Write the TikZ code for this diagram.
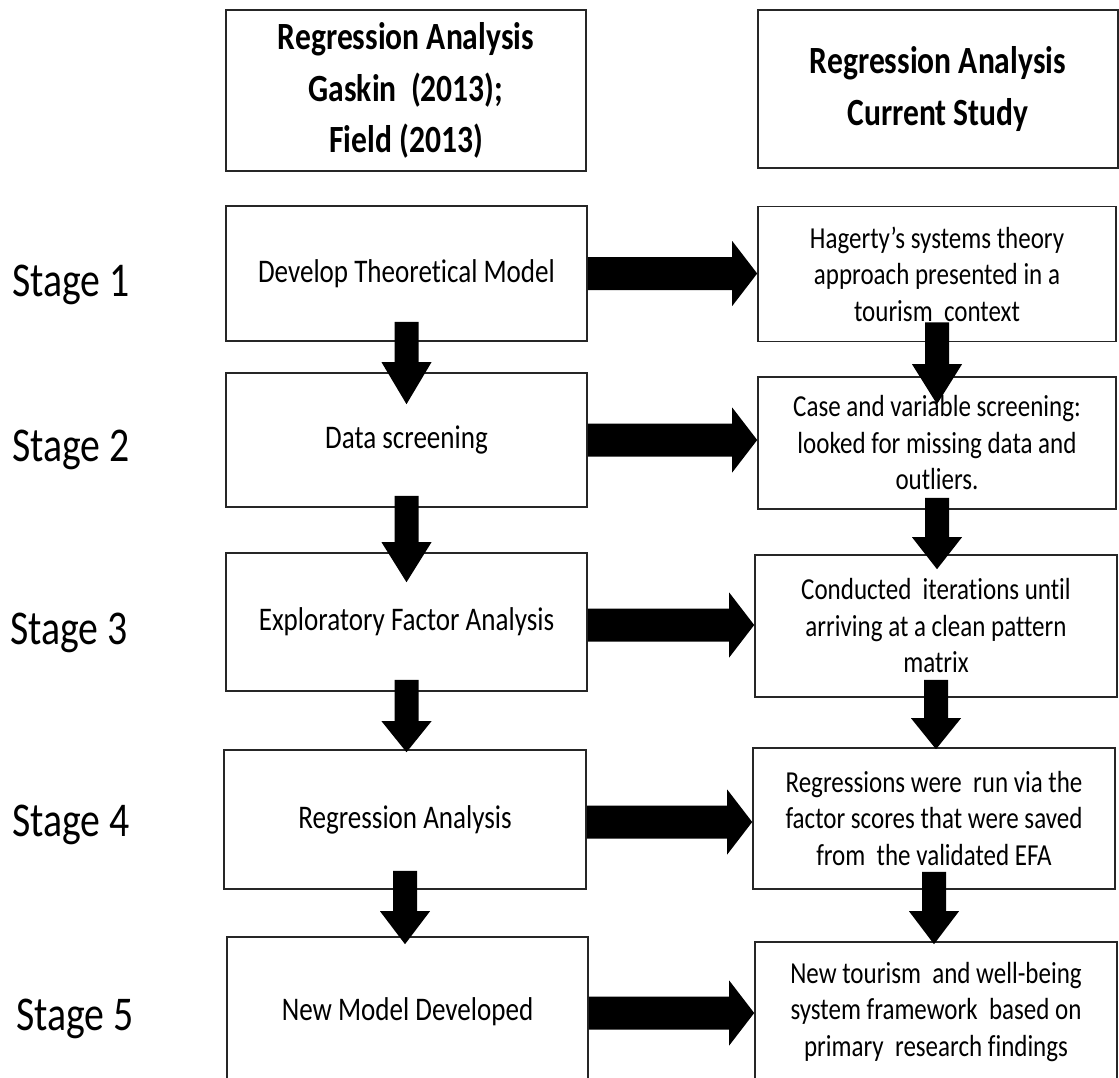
\documentclass[tikz,border=0pt]{standalone}
\usepackage{fontspec}
\setmainfont{Carlito}[FakeStretch=0.82, Ligatures=NoCommon]
\usetikzlibrary{calc}

% thick block arrow pointing right, from the east side of #1 to the west side of #2
% #3: vertical shift of the arrow (downwards)
\newcommand\rightblock[3]{%
  \fill[blockfill] let \p1=(#1.east), \p2=(#2.west) in
    (\x1,\y1-#3+16.5pt) -- (\x2-25pt,\y1-#3+16.5pt) -- (\x2-25pt,\y1-#3+32.5pt)
    -- (\x2,\y1-#3) -- (\x2-25pt,\y1-#3-32.5pt) -- (\x2-25pt,\y1-#3-16.5pt)
    -- (\x1,\y1-#3-16.5pt) -- cycle;}

% thick block arrow pointing down, from inside #1 into #2
% #3: start above the bottom of #1, #4: tip below the top of #2, #5: head length
\newcommand\downblock[5]{%
  \fill[blockfill] let \p1=(#1.south), \p2=(#2.north) in
    (\x1-12pt,\y1+#3) -- (\x1+12pt,\y1+#3) -- (\x1+12pt,\y2-#4+#5)
    -- (\x1+25pt,\y2-#4+#5) -- (\x1,\y2-#4) -- (\x1-25pt,\y2-#4+#5)
    -- (\x1-12pt,\y2-#4+#5) -- cycle;}

\begin{document}
\begin{tikzpicture}[x=1pt,y=-1pt,
  box/.style={draw=black!85, line width=1.6pt, rectangle, inner sep=0pt,
    align=center, font=\fontsize{33}{40}\selectfont},
  headbox/.style={box, font=\fontsize{38.5}{51.5}\selectfont\bfseries},
  notebox/.style={box, font=\fontsize{30.5}{36.5}\selectfont},
  stagelabel/.style={anchor=base west, inner sep=0pt, font=\fontsize{48.5}{56}\selectfont},
  blockfill/.style={fill=black}]
\useasboundingbox (0,0) rectangle (1119,1077);

% column headers
\node[headbox, minimum width=360pt, minimum height=161pt] (hl) at (406,90.5)
  {Regression Analysis\\Gaskin\ \ (2013);\\Field (2013)};
\node[headbox, minimum width=360pt, minimum height=158pt] (hr) at (938,89)
  {Regression Analysis\\Current Study};

% left column: generic procedure
\node[box, minimum width=361pt, minimum height=135pt] (l1) at (406.5,273.5) {Develop Theoretical Model};
\node[box, minimum width=361pt, minimum height=134pt] (l2) at (406.5,440) {Data screening};
\node[box, minimum width=361pt, minimum height=138pt] (l3) at (406.5,622) {Exploratory Factor Analysis};
\node[box, minimum width=362pt, minimum height=139pt] (l4) at (405,819.5) {Regression Analysis};
\node[box, minimum width=361pt, minimum height=150pt] (l5) at (407.5,1012) {New Model Developed};

% right column: current study
\node[notebox, minimum width=358pt, minimum height=135pt] (r1) at (937,274)
  {Hagerty’s systems theory\\approach presented in a\\tourism\ \ context};
\node[notebox, minimum width=358pt, minimum height=132pt] (r2) at (937,443)
  {Case and variable screening:\\looked for missing data and\\outliers.};
\node[notebox, minimum width=362pt, minimum height=142pt] (r3) at (936,626)
  {Conducted\ \ iterations until\\arriving at a clean pattern\\matrix};
\node[notebox, minimum width=362pt, minimum height=141pt] (r4) at (934,818.5)
  {Regressions were\ \ run via the\\factor scores that were saved\\from\ \ the validated EFA};
\node[notebox, minimum width=362pt, minimum height=140pt] (r5) at (936,1012)
  {New tourism\ \ and well-being\\system framework\ \ based on\\primary\ \ research findings};

% stage labels
\node[stagelabel] (s1) at (12,296) {Stage 1};
\node[stagelabel] (s2) at (12,461) {Stage 2};
\node[stagelabel] (s3) at (10,644) {Stage 3};
\node[stagelabel] (s4) at (12,836) {Stage 4};
\node[stagelabel] (s5) at (16,1030) {Stage 5};

% arrows across
\rightblock{l1}{r1}{0pt}
\rightblock{l2}{r2}{0pt}
\rightblock{l3}{r3}{3pt}
\rightblock{l4}{r4}{2.5pt}
\rightblock{l5}{r5}{1pt}

% arrows down
\downblock{l1}{l2}{20pt}{32pt}{42pt}
\downblock{l2}{l3}{12pt}{30pt}{40pt}
\downblock{l3}{l4}{12pt}{3pt}{31pt}
\downblock{l4}{l5}{19pt}{8pt}{33pt}
\downblock{r1}{r2}{20pt}{28pt}{40pt}
\downblock{r2}{r3}{12pt}{15pt}{32pt}
\downblock{r3}{r4}{18pt}{2pt}{31pt}
\downblock{r4}{r5}{18pt}{3pt}{33pt}
\end{tikzpicture}
\end{document}
